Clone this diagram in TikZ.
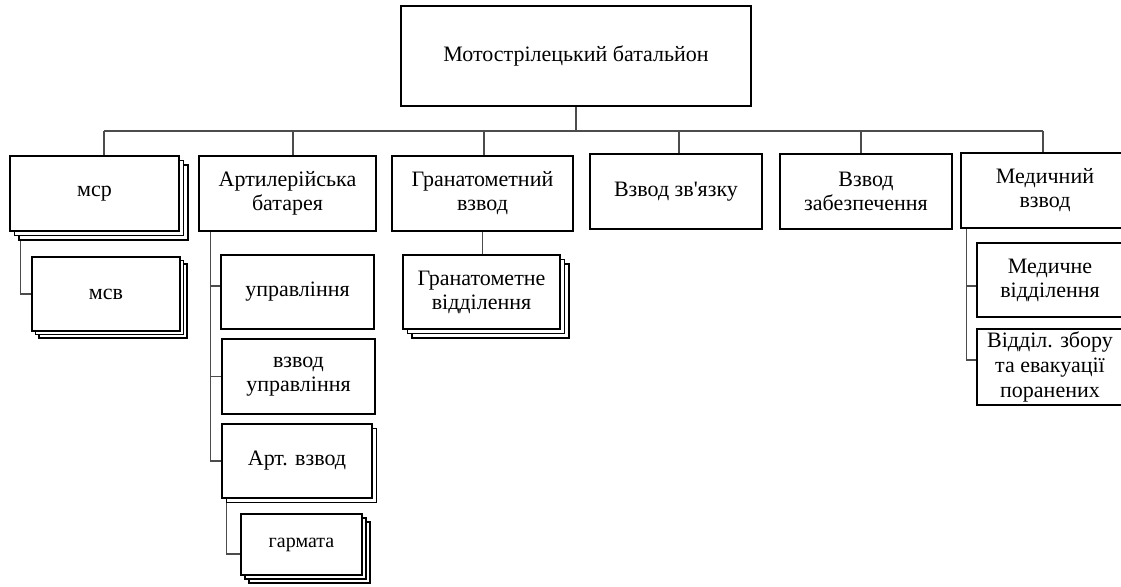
\documentclass[tikz,border=0pt]{standalone}
\usepackage{fontspec}
\setmainfont{Liberation Serif}
\usepackage{tikz}
\usetikzlibrary{positioning,calc,shadows,backgrounds}
\tikzset{
 unit/.style={draw, line width=0.8pt, fill=white, inner sep=1pt, align=center,
   font=\fontsize{11}{12}\selectfont},
 onecopy/.style={copy shadow={shadow xshift=#1, shadow yshift=-#1, fill=white, draw=black, line width=0.8pt}},
 twocopy/.style={copy shadow={shadow xshift=2*#1, shadow yshift=-2*#1, fill=white, draw=black, line width=0.8pt},
   copy shadow={shadow xshift=#1, shadow yshift=-#1, fill=white, draw=black, line width=0.8pt}},
 link/.style={draw=black!70, line width=0.55pt}
}

\begin{document}
\begin{tikzpicture}[x=0.5pt,y=-0.5pt]
\useasboundingbox (0,0) rectangle (1121,587);

% battalion
\path (576,56) node[name=bat, unit, minimum width=175pt, minimum height=50pt] {Мотострілецький батальйон};

% second level
\path (94.5,193.5) node[name=msr, unit, twocopy=2.25pt, minimum width=84.5pt, minimum height=37.5pt] {мср};
\path (287.5,193.5) node[name=art, unit, minimum width=88.5pt, minimum height=37.5pt] {Артилерійська\\батарея};
\path (482.5,193.5) node[name=gv, unit, minimum width=90.5pt, minimum height=37.5pt] {Гранатометний\\взвод};
\path (676,191.5) node[name=zv, unit, minimum width=86pt, minimum height=37.5pt] {Взвод зв\textquotesingle язку};
\path (866,191.5) node[name=zab, unit, minimum width=86pt, minimum height=37.5pt] {Взвод\\забезпечення};
\path (1045,190.5) node[name=med, unit, minimum width=84pt, minimum height=37.5pt] {Медичний\\взвод};

% third level
\path (106,294) node[name=msv, unit, twocopy=1.75pt, minimum width=74pt, minimum height=37pt] {мсв};
\path (297.5,292) node[name=upr, unit, minimum width=76.5pt, minimum height=37pt] {управління};
\path (298.5,376.5) node[name=vupr, unit, minimum width=76.5pt, minimum height=37.5pt] {взвод\\управління};
\path (297,461) node[name=artv, unit, onecopy=2.25pt, minimum width=75pt, minimum height=37pt] {Арт. взвод};
\path (301.5,544.5) node[name=garm, unit, twocopy=2pt, minimum width=60.5pt, minimum height=30.5pt,
  font=\fontsize{10}{11}\selectfont] {гармата};
\path (481.5,292) node[name=gvid, unit, twocopy=2.25pt, minimum width=78.5pt, minimum height=37pt] {Гранатометне\\відділення};
\path (1050,280) node[name=medv, unit, minimum width=73pt, minimum height=37pt] {Медичне\\відділення};
\path (1050,367) node[name=evak, unit, minimum width=73pt, minimum height=38pt,
  font=\fontsize{11}{12.5}\selectfont] {Відділ. збору\\та евакуації\\поранених};

% bus
\path (104,131) coordinate (bl);
\path (1043,131) coordinate (br);
\draw[link] (bat.south) -- (bat.south |- bl);
\draw[link] (bl) -- (br);
\foreach \x/\n in {104/msr,293/art,484/gv,679/zv,861/zab,1043/med}{
  \path (\x,131) coordinate (t\n);
  \draw[link] (t\n) -- (t\n |- \n.north);
}

\begin{scope}[on background layer]
\draw[link] ([xshift=5.5pt]msr.south west) |- (msv.west);
\draw[link] ([xshift=6pt]art.south west) |- ([yshift=3pt]upr.west);
\draw[link] ([xshift=6pt]art.south west) |- (vupr.west);
\draw[link] ([xshift=6pt]art.south west) |- (artv.west);
\draw[link] ([xshift=2.5pt]artv.south west) |- ([yshift=-4.75pt]garm.west);
\draw[link] (gv.south) -- (gv.south |- gvid.north);
\draw[link] ([xshift=3pt]med.south west) |- ([yshift=-3pt]medv.west);
\draw[link] ([xshift=3pt]med.south west) |- ([yshift=3.5pt]evak.west);
\end{scope}
\end{tikzpicture}
\end{document}
